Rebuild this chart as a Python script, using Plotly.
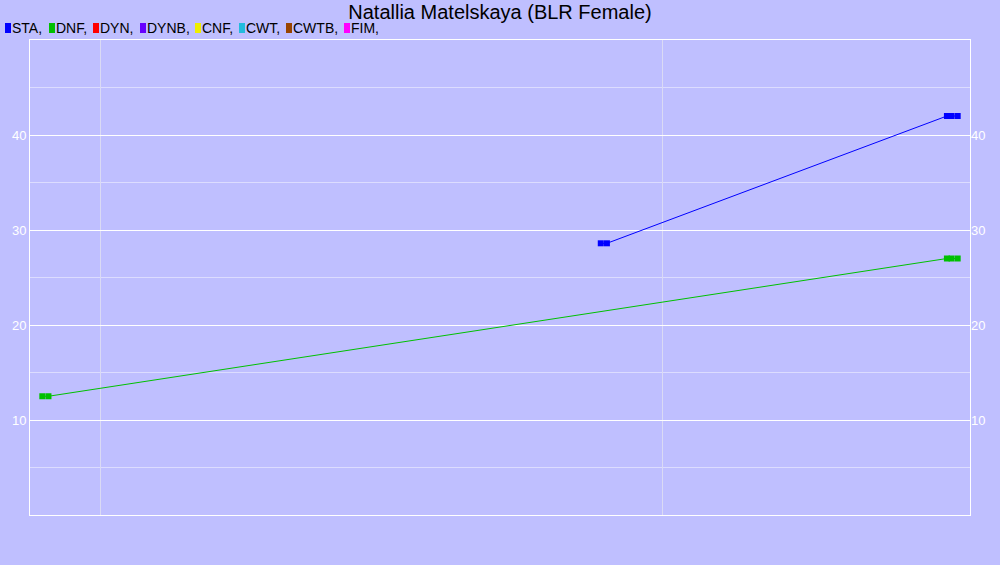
import plotly.graph_objects as go

title = "Natallia Matelskaya (BLR Female)"

legend_names = ["STA", "DNF", "DYN", "DYNB", "CNF", "CWT", "CWTB", "FIM"]
legend_colors = ["#0000FF", "#00C000", "#FF0000", "#6600FF", "#EEEE00", "#22BBDD", "#994400", "#FF00FF"]

sta_dates = ["2013-11-22", "2013-11-26", "2014-07-05", "2014-07-08", "2014-07-12"]
sta_values = [28.6, 28.6, 42.0, 42.0, 42.0]

dnf_dates = ["2012-11-24", "2012-11-28", "2014-07-05", "2014-07-08", "2014-07-12"]
dnf_values = [12.5, 12.5, 27.0, 27.0, 27.0]

x_range = ["2012-11-16", "2014-07-20"]
x_grid = ["2013-01-01", "2014-01-01"]
y_ticks = [10, 20, 30, 40]

BG = "#BFBFFF"
FONT = "Liberation Sans, Arial"

fig = go.Figure()
fig.add_trace(go.Scatter(x=sta_dates, y=sta_values, mode="lines+markers",
                         line=dict(color=legend_colors[0], width=1),
                         marker=dict(symbol="square", size=6, color=legend_colors[0]),
                         showlegend=False, name="STA"))
fig.add_trace(go.Scatter(x=dnf_dates, y=dnf_values, mode="lines+markers",
                         line=dict(color=legend_colors[1], width=1),
                         marker=dict(symbol="square", size=6, color=legend_colors[1]),
                         showlegend=False, name="DNF"))
# invisible trace to activate right axis
fig.add_trace(go.Scatter(x=dnf_dates[:1], y=dnf_values[:1], yaxis="y2", mode="markers",
                         marker=dict(opacity=0), showlegend=False, hoverinfo="skip"))

# custom legend
legend_x = [5, 49, 93, 140, 195, 239, 286, 344]
shapes = []
annotations = []
for name, col, px in zip(legend_names, legend_colors, legend_x):
    shapes.append(dict(type="rect", xref="paper", yref="paper",
                       x0=(px - 30) / 940, x1=(px + 6 - 30) / 940,
                       y0=(515 - 33) / 475, y1=(515 - 23) / 475,
                       fillcolor=col, line=dict(width=0), layer="above"))
    annotations.append(dict(text=name + ",", xref="paper", yref="paper",
                            x=(px + 5 - 30) / 940, y=(515 - 28) / 475,
                            xanchor="left", yanchor="middle", showarrow=False,
                            font=dict(family=FONT, size=14, color="#000000")))

fig.update_layout(
    width=1000, height=565,
    paper_bgcolor=BG, plot_bgcolor=BG,
    margin=dict(l=30, r=30, t=40, b=50),
    title=dict(text=title, x=0.5, xanchor="center", y=1 - 12 / 565, yanchor="middle",
               font=dict(family=FONT, size=20, color="#000000")),
    xaxis=dict(type="date", range=x_range, tickmode="array", tickvals=x_grid,
               showticklabels=False, showgrid=True, gridcolor="#DADAF4", gridwidth=1,
               zeroline=False, showline=True, linecolor="#FFFFFF", linewidth=1, mirror=True,
               ticks=""),
    yaxis=dict(range=[0, 50], tickmode="array", tickvals=y_ticks, showgrid=True,
               gridcolor="#FFFFFF", gridwidth=1, zeroline=False,
               showline=True, linecolor="#FFFFFF", linewidth=1, mirror=True,
               tickfont=dict(family=FONT, size=13, color="#FFFFFF"),
               ticks="",
               minor=dict(tickvals=[5, 15, 25, 35, 45], showgrid=True, gridcolor="#DCDCFF", gridwidth=1)),
    yaxis2=dict(range=[0, 50], tickmode="array", tickvals=y_ticks, overlaying="y", side="right",
                showgrid=False, zeroline=False, showline=False, ticks="",
                tickfont=dict(family=FONT, size=13, color="#FFFFFF")),
    shapes=shapes,
    annotations=annotations,
    hovermode=False,
)

fig.write_html("out.html", config={"displayModeBar": False},
               post_script="document.body.style.margin='0';document.body.style.background='" + BG + "';")
